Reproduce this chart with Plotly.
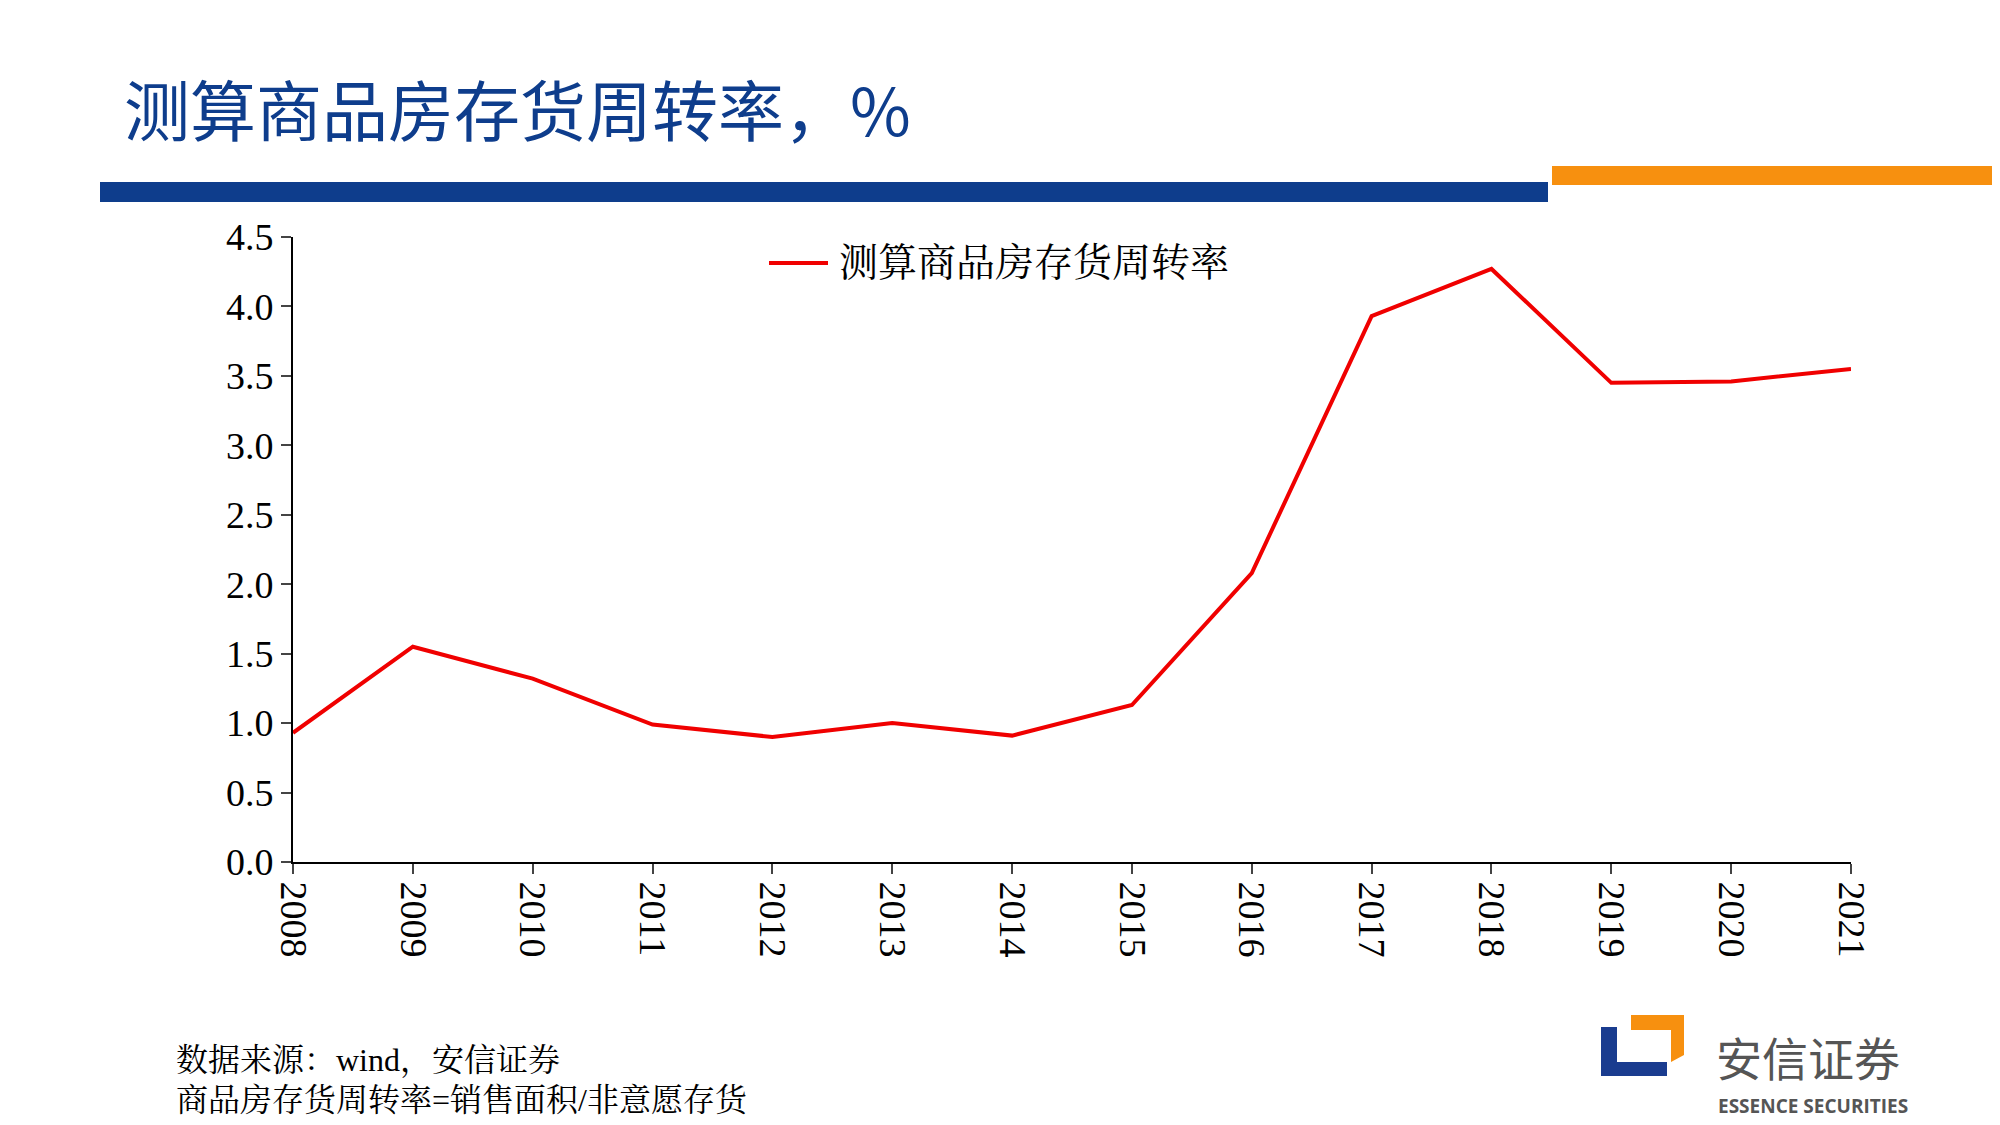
import plotly.graph_objects as go

years = ["2008","2009","2010","2011","2012","2013","2014","2015","2016","2017","2018","2019","2020","2021"]
turnover = [0.93,1.55,1.32,0.99,0.90,1.00,0.91,1.13,2.08,3.93,4.27,3.45,3.46,3.55]
yticks = [0.0,0.5,1.0,1.5,2.0,2.5,3.0,3.5,4.0,4.5]

W, H = 2000, 1125
L, R, T, B = 285, 1843, 229, 854
def px(x): return (x - L) / (R - L)
def py(y): return (B - y) / (B - T)

fig = go.Figure(go.Scatter(x=list(range(len(years))), y=turnover, mode="lines",
    line=dict(color="#f00000", width=4), name="测算商品房存货周转率", showlegend=False))

serif = "Liberation Serif, Times New Roman, serif"
fig.update_layout(width=W, height=H, margin=dict(l=L, r=W-R, t=T, b=H-B),
    plot_bgcolor="white", paper_bgcolor="white",
    xaxis=dict(range=[0, len(years)-1], tickmode="array", tickvals=list(range(len(years))),
               ticktext=years, tickangle=90, ticks="outside", ticklen=10, tickwidth=2,
               showline=True, linecolor="black", linewidth=2, showgrid=False, zeroline=False,
               tickfont=dict(family=serif, size=38, color="black")),
    yaxis=dict(range=[0, 4.5], tickmode="array", tickvals=yticks,
               ticktext=[f"{v:.1f}" for v in yticks], ticks="outside", ticklen=10, tickwidth=2,
               showline=True, linecolor="black", linewidth=2, showgrid=False, zeroline=False,
               tickfont=dict(family=serif, size=38, color="black")))

shapes = [
    dict(type="rect", x0=px(92), x1=px(1540), y0=py(174), y1=py(194), fillcolor="#0e3d8c", line_width=0),
    dict(type="rect", x0=px(1544), x1=px(2000), y0=py(158), y1=py(177), fillcolor="#f7900f", line_width=0),
    dict(type="line", x0=px(761), x1=px(820), y0=py(255), y1=py(255), line=dict(color="#f00000", width=4)),
    dict(type="path", path=f"M {px(1623)},{py(1007)} L {px(1676)},{py(1007)} L {px(1676)},{py(1047)} L {px(1663)},{py(1054)} L {px(1663)},{py(1022)} L {px(1623)},{py(1022)} Z",
         fillcolor="#f7900f", line_width=0),
    dict(type="path", path=f"M {px(1593)},{py(1019)} L {px(1609)},{py(1019)} L {px(1609)},{py(1054)} L {px(1659)},{py(1054)} L {px(1659)},{py(1068)} L {px(1593)},{py(1068)} Z",
         fillcolor="#1a3c8f", line_width=0),
]
for s in shapes:
    s["xref"] = "paper"; s["yref"] = "paper"; s["layer"] = "above"
fig.update_layout(shapes=shapes)

def ann(x, y, text, size, color="black", family="Noto Sans CJK SC", xanchor="left"):
    fig.add_annotation(x=px(x), y=py(y), xref="paper", yref="paper", text=text, showarrow=False,
                       xanchor=xanchor, yanchor="middle", font=dict(family=family, size=size, color=color))

cjkserif = "Liberation Serif, Noto Serif CJK SC, Noto Sans CJK SC"
ann(114, 99, "测算商品房存货周转率，%", 66, color="#0e3d8c")
ann(829, 255, "测算商品房存货周转率", 39, family=cjkserif)
ann(166, 1052, "数据来源：wind，安信证券", 32, family=cjkserif)
ann(166, 1092, "商品房存货周转率=销售面积/非意愿存货", 32, family=cjkserif)
ann(1706, 1048, "安信证券", 46, color="#555555")
ann(1708, 1098, "<b>ESSENCE SECURITIES</b>", 19, color="#555555", family="Open Sans")

fig.write_html("out.html")
